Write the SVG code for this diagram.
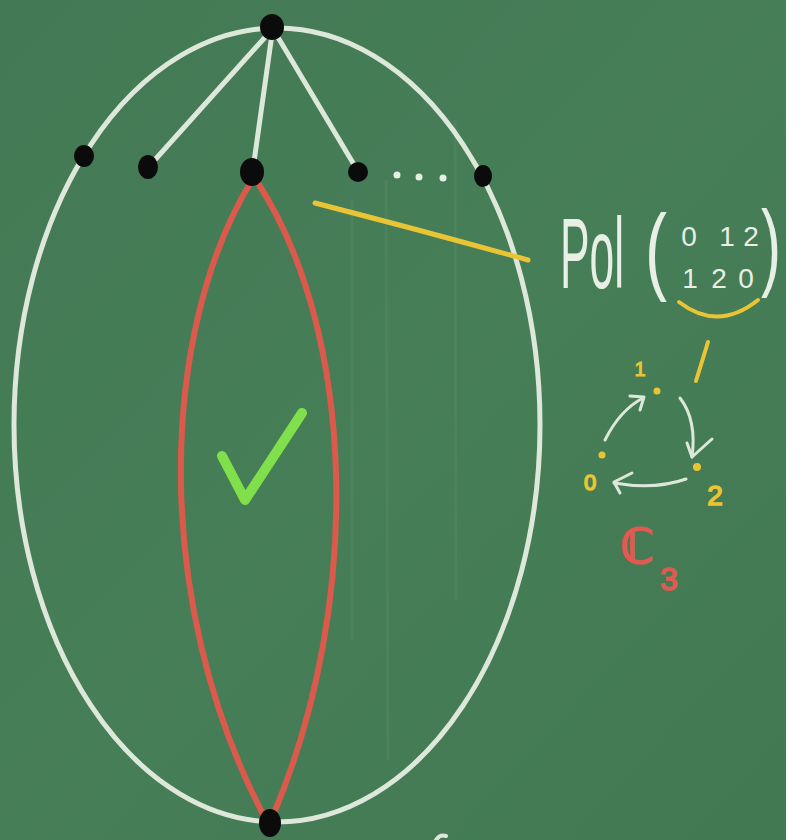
<svg xmlns="http://www.w3.org/2000/svg" width="786" height="840" viewBox="0 0 786 840">
  <style>
    .chalk { fill: none; stroke: #dde8da; stroke-linecap: round; stroke-linejoin: round; }
    .dot { fill: #0b0b0b; }
    .red { fill: none; stroke: #dc5a4c; stroke-width: 6; stroke-linecap: round; }
    .yel { fill: none; stroke: #e9c535; stroke-linecap: round; stroke-linejoin: round; }
    .txt { font-family: "Liberation Sans", "DejaVu Sans", sans-serif; fill: #e8efe5; }
    .ytxt { font-family: "Liberation Sans", "DejaVu Sans", sans-serif; fill: #e9c535; }
  </style>
  <defs>
    <linearGradient id="bg" x1="0" y1="0" x2="1" y2="1">
      <stop offset="0" stop-color="#437a55"/>
      <stop offset="0.5" stop-color="#467e58"/>
      <stop offset="1" stop-color="#427953"/>
    </linearGradient>
  </defs>
  <rect width="786" height="840" fill="url(#bg)"/>
  <!-- faint chalk residue streaks -->
  <g stroke="#5a9068" stroke-opacity="0.35" stroke-width="3">
    <line x1="352" y1="200" x2="352" y2="640"/>
    <line x1="386" y1="180" x2="388" y2="760"/>
    <line x1="455" y1="120" x2="456" y2="600"/>
  </g>

  <!-- outer ellipse -->
  <ellipse id="outer-ellipse" cx="277" cy="425" rx="263" ry="397" class="chalk" stroke-width="5"/>

  <!-- red lens -->
  <g id="lens">
    <path class="red" d="M252,180 C160,330 150,600 265,818"/>
    <path class="red" d="M256,180 C355,330 365,600 272,818"/>
  </g>

  <!-- connectors -->
  <g id="connectors" class="chalk" stroke-width="5">
    <line x1="268" y1="34" x2="153" y2="162"/>
    <line x1="272" y1="34" x2="254" y2="162"/>
    <line x1="276" y1="34" x2="356" y2="168"/>
  </g>

  <!-- nodes -->
  <g id="node-top"><ellipse class="dot" cx="272" cy="27" rx="12" ry="13"/></g>
  <g id="node-a"><ellipse class="dot" cx="84" cy="156" rx="10" ry="11"/></g>
  <g id="node-b"><ellipse class="dot" cx="148" cy="167" rx="10" ry="12"/></g>
  <g id="node-c"><ellipse class="dot" cx="252" cy="172" rx="12" ry="14"/></g>
  <g id="node-d"><ellipse class="dot" cx="358" cy="172" rx="10" ry="10"/></g>
  <g id="node-e"><ellipse class="dot" cx="483" cy="176" rx="9" ry="11"/></g>
  <g id="node-bottom"><ellipse class="dot" cx="270" cy="823" rx="11" ry="14"/></g>
  <g id="ellipsis" fill="#e8efe5">
    <circle cx="397" cy="175" r="3.5"/>
    <circle cx="419" cy="177" r="3.5"/>
    <circle cx="443" cy="178" r="3.5"/>
  </g>

  <!-- check mark -->
  <path id="check" d="M222,456 L245,500 L302,413" fill="none" stroke="#80e04c" stroke-width="10" stroke-linecap="round" stroke-linejoin="round"/>

  <!-- yellow pointer line -->
  <path class="yel" stroke-width="5" d="M315,203 Q420,230 528,260"/>

  <!-- Pol(...) label -->
  <g id="pol-label">
    <text class="txt" transform="translate(560,288) scale(0.443,1)" x="0" y="0" font-size="100">Pol</text>
    <text class="txt" transform="translate(645,282) scale(0.69,1)" x="0" y="0" font-size="96">(</text>
    <text class="txt" transform="translate(761,278) scale(0.625,1)" x="0" y="0" font-size="96">)</text>
    <g font-size="28" text-anchor="middle">
      <text class="txt" x="689" y="246">0</text>
      <text class="txt" x="727" y="246">1</text>
      <text class="txt" x="751" y="246">2</text>
      <text class="txt" x="690" y="288">1</text>
      <text class="txt" x="719" y="288">2</text>
      <text class="txt" x="746" y="288">0</text>
    </g>
    <path class="yel" stroke-width="4" d="M679,302 Q718,332 758,300"/>
    <path class="yel" stroke-width="4" d="M708,342 L696,381"/>
  </g>

  <!-- C3 diagram -->
  <g id="c3-diagram">
    <circle cx="657" cy="391" r="3.5" fill="#e9c535"/>
    <circle cx="602" cy="455" r="3.5" fill="#e9c535"/>
    <circle cx="697" cy="467" r="4" fill="#e9c535"/>
    <text class="ytxt" x="640" y="376" font-size="20" text-anchor="middle" stroke="#e9c535" stroke-width="1">1</text>
    <text class="ytxt" x="715" y="505" font-size="28" text-anchor="middle" stroke="#e9c535" stroke-width="1.5">2</text>
    <text class="ytxt" x="590" y="490" font-size="22" text-anchor="middle" stroke="#e9c535" stroke-width="1.5">0</text>
    <g class="chalk" stroke-width="3">
      <path d="M605,440 Q620,410 643,398"/>
      <path d="M630,396 L644,397 L640,410"/>
      <path d="M680,398 Q697,420 692,457"/>
      <path d="M687,443 L692,457 L712,439"/>
      <path d="M686,479 Q655,490 614,483"/>
      <path d="M632,473 L614,482 L620,493"/>
    </g>
    <text x="620" y="563" font-size="48" fill="#e05a50" stroke="#e05a50" stroke-width="2" font-family="DejaVu Sans, sans-serif">ℂ</text>
    <text x="660" y="590" font-size="32" fill="#e05a50" stroke="#e05a50" stroke-width="1.5" font-family="Liberation Sans, sans-serif">3</text>
  </g>

  <!-- small chalk fragment at bottom -->
  <path class="chalk" stroke-width="4" d="M436,840 Q440,834 446,836"/>
</svg>
